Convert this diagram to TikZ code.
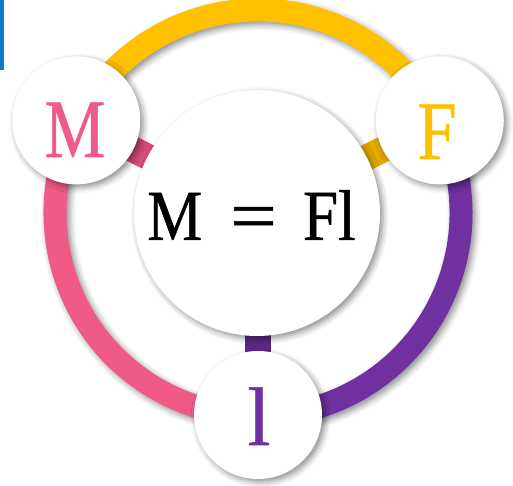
\documentclass[tikz,border=0pt]{standalone}
\usepackage{fontspec}
\setmainfont{Liberation Serif}
\newfontfamily\heavyfont[FakeBold=0.7]{Liberation Serif}
\usetikzlibrary{shadows.blur}
\definecolor{yel}{HTML}{FFC000}
\definecolor{yeldark}{HTML}{E3AA00}
\definecolor{pur}{HTML}{7030A0}
\definecolor{purdark}{HTML}{5E2888}
\definecolor{pnk}{HTML}{F05A87}
\definecolor{pnkdark}{HTML}{D84C7A}
\definecolor{barblue}{HTML}{0E78CC}
\tikzset{
  shad/.style={blur shadow={shadow xshift=3pt,shadow yshift=-3pt,shadow blur radius=6pt,shadow opacity=45}},
  smallc/.style={circle,fill=white,minimum size=128pt,inner sep=0pt,shad},
  bigc/.style={circle,fill=white,minimum size=246pt,inner sep=0pt,shad},
  link/.style={line width=26pt},
  letter/.style={font=\heavyfont\fontsize{83}{90}\selectfont,anchor=base,inner sep=0pt}
}
\begin{document}
\begin{tikzpicture}[x=1pt,y=1pt]
\useasboundingbox (0,0) rectangle (513,486);
\fill[barblue] (0,416) rectangle (4,486);
\coordinate (c) at (258,273);
% ring segments as annular sectors
\fill[yel,shad] ([shift={(27:191.5)}]c) -- ([shift={(27:214.5)}]c) arc[start angle=27,end angle=153,radius=214.5] -- ([shift={(153:191.5)}]c) arc[start angle=153,end angle=27,radius=191.5] -- cycle;
\fill[pur,shad] ([shift={(-90:191.5)}]c) -- ([shift={(-90:214.5)}]c) arc[start angle=-90,end angle=27,radius=214.5] -- ([shift={(27:191.5)}]c) arc[start angle=27,end angle=-90,radius=191.5] -- cycle;
\fill[pnk,shad] ([shift={(153:191.5)}]c) -- ([shift={(153:214.5)}]c) arc[start angle=153,end angle=270,radius=214.5] -- ([shift={(270:191.5)}]c) arc[start angle=270,end angle=153,radius=191.5] -- cycle;
\coordinate (pm) at ([shift={(153:204)}]c);
\coordinate (pf) at ([shift={(27:204)}]c);
\coordinate (pl) at ([shift={(270:202)}]c);
\draw[link,pnkdark] (pm) -- (c);
\draw[link,yeldark] (pf) -- (c);
\draw[link,purdark] (pl) -- (c);
\node[bigc] (center) at (257,273) {};
\node[smallc] (m) at (pm) {};
\node[smallc] (f) at (pf) {};
\node[smallc] (l) at (pl) {};
\node[letter,text=pnk] (mt) at (75,329) {\scalebox{0.82}[1]{M}};
\node[letter,text=yel] (ft) at (437,327) {\scalebox{0.85}[1]{F}};
\node[letter,text=pur] (lt) at (259,41) {l};
\node[font=\heavyfont\fontsize{72}{80}\selectfont,anchor=base,inner sep=0pt] (eq) at (251.5,246) {\scalebox{0.86}[1]{M}\kern 28pt\scalebox{1.15}[1]{=}\kern 26pt\scalebox{0.88}[1]{Fl}};
\end{tikzpicture}
\end{document}
